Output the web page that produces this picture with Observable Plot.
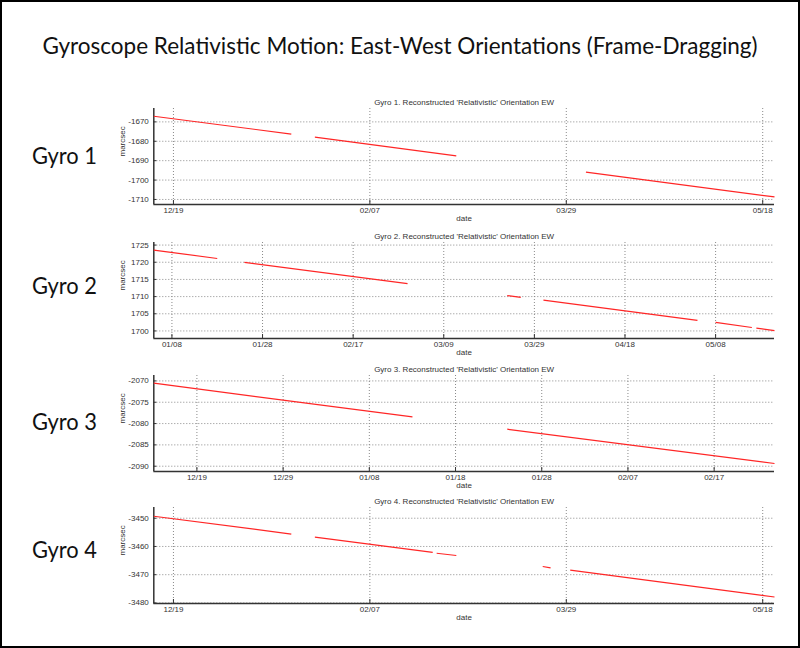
<!DOCTYPE html>
<html><head><meta charset="utf-8">
<script src="https://cdn.jsdelivr.net/npm/d3@7"></script>
<script src="https://cdn.jsdelivr.net/npm/@observablehq/plot@0.6"></script>
<style>
html,body{margin:0;padding:0;background:#fff;}
#wrap{position:relative;width:800px;height:648px;overflow:hidden;background:#fff;}
#wrap svg{position:absolute;}
#title{position:absolute;left:0;width:800px;top:30px;text-align:center;font-family:Lato,'Open Sans',sans-serif;font-size:24px;line-height:30px;color:#111;white-space:nowrap;}
#title span{display:inline-block;}
</style></head><body><div id="wrap"><div id="title"><span id="titleText"></span></div></div><script>
// ---------- data ----------
const mainTitle = "Gyroscope Relativistic Motion: East-West Orientations (Frame-Dragging)";
const gyroNames = ["Gyro 1", "Gyro 2", "Gyro 3", "Gyro 4"];
const panelTitles = [
  "Gyro 1. Reconstructed 'Relativistic' Orientation EW",
  "Gyro 2. Reconstructed 'Relativistic' Orientation EW",
  "Gyro 3. Reconstructed 'Relativistic' Orientation EW",
  "Gyro 4. Reconstructed 'Relativistic' Orientation EW"
];
const yLabel = "marcsec";
const xLabel = "date";

// Gyro 1
const g1Start = ["2004-12-14", "2005-01-24", "2005-04-03"];
const g1End = ["2005-01-18", "2005-03-01", "2005-05-21"];
const g1StartVal = [-1667.1, -1677.9, -1695.9];
const g1EndVal = [-1676.3, -1687.5, -1708.7];
const g1XDomain = ["2004-12-14", "2005-05-21"];
const g1YDomain = [-1712.6, -1663.1];
const g1XTicks = ["2004-12-19", "2005-02-07", "2005-03-29", "2005-05-18"];
const g1YTicks = [-1710, -1700, -1690, -1680, -1670];

// Gyro 2
const g2Start = ["2005-01-04", "2005-01-24", "2005-03-23", "2005-03-31", "2005-05-08", "2005-05-17"];
const g2End = ["2005-01-18", "2005-03-01", "2005-03-26", "2005-05-04", "2005-05-16", "2005-05-21"];
const g2StartVal = [1723.55, 1719.96, 1710.3, 1708.96, 1702.5, 1700.8];
const g2EndVal = [1721.1, 1713.8, 1709.8, 1703.1, 1701.0, 1700.1];
const g2XDomain = ["2005-01-04", "2005-05-21"];
const g2YDomain = [1697.8, 1725.75];
const g2XTicks = ["2005-01-08", "2005-01-28", "2005-02-17", "2005-03-09", "2005-03-29", "2005-04-18", "2005-05-08"];
const g2YTicks = [1700, 1705, 1710, 1715, 1720, 1725];

// Gyro 3
const g3Start = ["2004-12-14", "2005-01-24"];
const g3End = ["2005-01-13", "2005-02-24"];
const g3StartVal = [-2070.54, -2081.32];
const g3EndVal = [-2078.44, -2089.36];
const g3XDomain = ["2004-12-14", "2005-02-24"];
const g3YDomain = [-2091.24, -2068.73];
const g3XTicks = ["2004-12-19", "2004-12-29", "2005-01-08", "2005-01-18", "2005-01-28", "2005-02-07", "2005-02-17"];
const g3YTicks = [-2090, -2085, -2080, -2075, -2070];

// Gyro 4
const g4Start = ["2004-12-14", "2005-01-24", "2005-02-24", "2005-03-23", "2005-03-30"];
const g4End = ["2005-01-18", "2005-02-23", "2005-03-01", "2005-03-25", "2005-05-21"];
const g4StartVal = [-3449.3, -3456.7, -3462.4, -3467.1, -3468.4];
const g4EndVal = [-3455.6, -3462.1, -3463.2, -3467.6, -3477.9];
const g4XDomain = ["2004-12-14", "2005-05-21"];
const g4YDomain = [-3480.2, -3446.2];
const g4XTicks = ["2004-12-19", "2005-02-07", "2005-03-29", "2005-05-18"];
const g4YTicks = [-3480, -3470, -3460, -3450];

// ---------- layout ----------
const parse = d3.utcParse("%Y-%m-%d");
const wrap = document.getElementById("wrap");
const NS = "http://www.w3.org/2000/svg";

// main title (HTML), fitted to the reference width
const tt = document.getElementById("titleText");
tt.textContent = mainTitle;
let fs = 24;
tt.style.fontSize = fs + "px";
const targetW = 715;
const w0 = tt.getBoundingClientRect().width;
if (w0 > 0) {
  fs = Math.max(16, Math.min(28, fs * targetW / w0));
  tt.style.fontSize = fs.toFixed(2) + "px";
}

// background svg: border and gyro labels
const bg = document.createElementNS(NS, "svg");
bg.setAttribute("width", 800); bg.setAttribute("height", 648);
bg.style.left = "0px"; bg.style.top = "0px";
function addText(parent, str, attrs) {
  const t = document.createElementNS(NS, "text");
  for (const k in attrs) t.setAttribute(k, attrs[k]);
  t.textContent = str;
  parent.appendChild(t);
}
const border = document.createElementNS(NS, "rect");
border.setAttribute("x", 1); border.setAttribute("y", 1);
border.setAttribute("width", 798); border.setAttribute("height", 646);
border.setAttribute("fill", "none"); border.setAttribute("stroke", "#000"); border.setAttribute("stroke-width", 2);
bg.appendChild(border);
const gyroBaselines = [164, 294.3, 430, 557.7];
gyroNames.forEach((g, i) => addText(bg, g, {x: 32, y: gyroBaselines[i], "font-family": "Lato, 'Open Sans', sans-serif",
  "font-size": 24, fill: "#111", textLength: 65, lengthAdjust: "spacingAndGlyphs"}));
wrap.insertBefore(bg, wrap.firstChild);

const panels = [
  {start: g1Start, end: g1End, sv: g1StartVal, ev: g1EndVal, xd: g1XDomain, yd: g1YDomain, xt: g1XTicks, yt: g1YTicks, top: 108.3},
  {start: g2Start, end: g2End, sv: g2StartVal, ev: g2EndVal, xd: g2XDomain, yd: g2YDomain, xt: g2XTicks, yt: g2YTicks, top: 241.7},
  {start: g3Start, end: g3End, sv: g3StartVal, ev: g3EndVal, xd: g3XDomain, yd: g3YDomain, xt: g3XTicks, yt: g3YTicks, top: 375.3},
  {start: g4Start, end: g4End, sv: g4StartVal, ev: g4EndVal, xd: g4XDomain, yd: g4YDomain, xt: g4XTicks, yt: g4YTicks, top: 507.3}
];

const svgLeft = 100, mL = 53.3, mR = 20, W = 694, mT = 20, mB = 22, frameH = 96;
const frameW = W - mL - mR;

panels.forEach((p, i) => {
  const rows = p.start.map((s, k) => ({x1: parse(s), x2: parse(p.end[k]), y1: p.sv[k], y2: p.ev[k]}));
  const xDom = p.xd.map(parse);
  const xt = p.xt.map(parse);
  const chart = Plot.plot({
    width: W, height: frameH + mT + mB,
    marginLeft: mL, marginRight: mR, marginTop: mT, marginBottom: mB,
    style: {background: "transparent", fontFamily: "'Liberation Sans', Arial, sans-serif", fontSize: "8px", color: "#333", overflow: "visible"},
    x: {type: "utc", domain: xDom},
    y: {domain: p.yd},
    marks: [
      Plot.gridX(xt, {stroke: "#8a8a8a", strokeOpacity: 1, strokeDasharray: "1,2", strokeWidth: 1}),
      Plot.gridY(p.yt, {stroke: "#8a8a8a", strokeOpacity: 1, strokeDasharray: "1,2", strokeWidth: 1}),
      Plot.tickX(xt, {insetTop: frameH - 4, stroke: "#333", strokeWidth: 1}),
      Plot.tickY(p.yt, {insetRight: frameW - 3, stroke: "#333", strokeWidth: 1}),
      Plot.ruleX([xDom[0]], {stroke: "#333", strokeWidth: 1.5}),
      Plot.ruleY([p.yd[0]], {stroke: "#333", strokeWidth: 1.5}),
      Plot.axisX(xt, {tickSize: 0, tickPadding: 3, tickFormat: d3.utcFormat("%m/%d"), label: null, fill: "#333"}),
      Plot.axisY(p.yt, {tickSize: 0, tickPadding: 5, tickFormat: d => String(d), label: null, fill: "#333"}),
      Plot.link(rows, {x1: "x1", y1: "y1", x2: "x2", y2: "y2", stroke: "#ff2626", strokeWidth: 1.2}),
      Plot.text([panelTitles[i]], {frameAnchor: "top", dy: -9, fill: "#333", fontSize: 8}),
      Plot.text([yLabel], {frameAnchor: "left", rotate: -90, dx: -31, fill: "#333", fontSize: 8}),
      Plot.text([xLabel], {frameAnchor: "bottom", dy: 16.5, fill: "#333", fontSize: 8})
    ]
  });
  chart.style.left = svgLeft + "px";
  chart.style.top = (p.top - mT) + "px";
  wrap.appendChild(chart);
});
</script></body></html>
